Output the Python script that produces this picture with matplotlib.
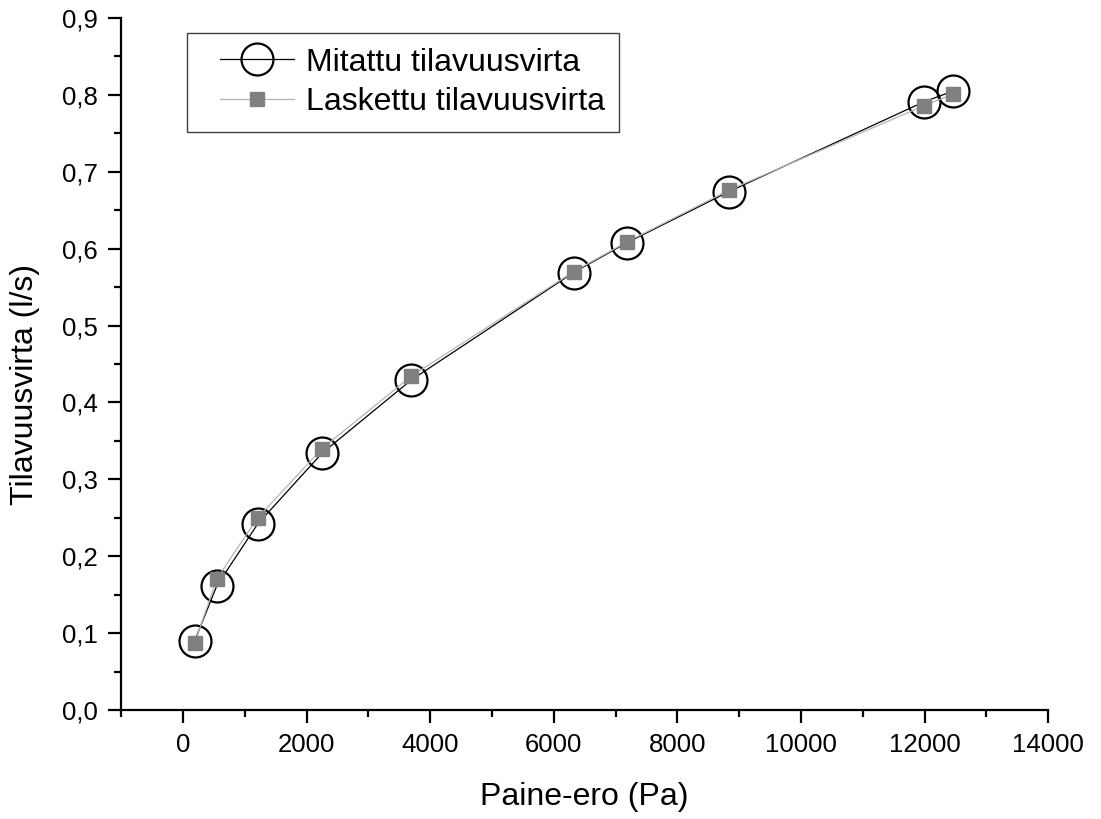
import numpy as np
import matplotlib.pyplot as plt
from matplotlib.ticker import MultipleLocator, FuncFormatter
from matplotlib.legend_handler import HandlerLine2D

plt.rcParams['font.family'] = ['Liberation Sans', 'DejaVu Sans']

# measured vs calculated flow
paine_ero = [190, 550, 1210, 2250, 3690, 6320, 7190, 8830, 11990, 12460]
mitattu = [0.090, 0.162, 0.242, 0.334, 0.429, 0.569, 0.608, 0.674, 0.791, 0.805]
laskettu = [0.087, 0.171, 0.250, 0.340, 0.434, 0.570, 0.609, 0.676, 0.786, 0.801]

fig = plt.figure(figsize=(11.01, 8.19), dpi=100)
ax = fig.add_axes([0.110, 0.133, 0.842, 0.845])

l1, = ax.plot(paine_ero, mitattu, color='black', lw=0.9, marker='o', ms=23,
              mfc='none', mec='black', mew=1.6, label='Mitattu tilavuusvirta', zorder=2)
l2, = ax.plot(paine_ero, laskettu, color='#b5b5b5', lw=0.9, marker='s', ms=10,
              mfc='#808080', mec='#808080', label='Laskettu tilavuusvirta', zorder=3)

ax.set_xlim(-1000, 14000)
ax.set_ylim(0, 0.9)
ax.xaxis.set_major_locator(MultipleLocator(2000))
ax.xaxis.set_minor_locator(MultipleLocator(1000))
ax.yaxis.set_major_locator(MultipleLocator(0.1))
ax.yaxis.set_minor_locator(MultipleLocator(0.05))
ax.yaxis.set_major_formatter(FuncFormatter(lambda v, p: f'{v:.1f}'.replace('.', ',')))

for s in ['top', 'right']:
    ax.spines[s].set_visible(False)
for s in ['left', 'bottom']:
    ax.spines[s].set_linewidth(1.6)
ax.tick_params(which='major', direction='out', length=9.5, width=1.6, labelsize=18.5, pad=7)
ax.tick_params(which='minor', direction='out', length=5, width=1.6)

ax.set_xlabel('Paine-ero (Pa)', fontsize=23, labelpad=18)
ax.set_ylabel('Tilavuusvirta (l/s)', fontsize=23)
ax.yaxis.set_label_coords(-0.088, 0.471)

hm = {l1: HandlerLine2D(xpad=0.6), l2: HandlerLine2D(xpad=0.6)}
leg = ax.legend(handler_map=hm, loc='upper left', bbox_to_anchor=(0.071, 0.978), fontsize=23,
                fancybox=False, edgecolor='#404040', framealpha=1,
                handlelength=2.9, handletextpad=0.37, borderpad=0.45,
                labelspacing=0.3, markerscale=1.0, borderaxespad=0)
leg.get_frame().set_linewidth(1.0)

fig.savefig('out.png', dpi=100)
